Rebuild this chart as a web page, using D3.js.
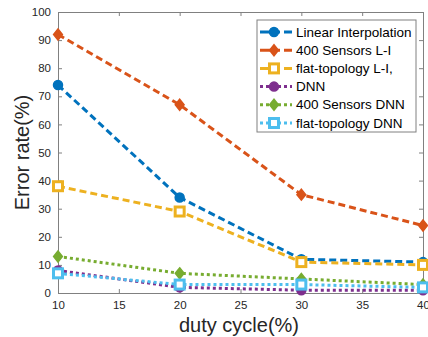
<!DOCTYPE html>
<html>
<head>
<meta charset="utf-8">
<script src="https://cdn.jsdelivr.net/npm/d3@7"></script>
<style>
  body { margin: 0; background: #fff; }
  svg { font-family: "Liberation Sans", Arial, sans-serif; }
</style>
</head>
<body>
<div id="chart"></div>
<script>
// Chart params
var svgWidth = 428;
var svgHeight = 337;

var margin = { top: 12, right: 5, bottom: 44, left: 58 };

var width = svgWidth - margin.left - margin.right;
var height = svgHeight - margin.top - margin.bottom;

// Data
var dutyCycle = [10, 20, 30, 40];
var linearInterp = [74, 34, 12, 11];
var sensors400LI = [92, 67, 35, 24];
var flatTopoLI = [38, 29, 11, 10];
var dnn = [8, 2, 1, 1];
var sensors400DNN = [13, 7, 5, 3];
var flatTopoDNN = [7, 3, 3, 2];

var xTicks = [10, 15, 20, 25, 30, 35, 40];
var yTicks = [0, 10, 20, 30, 40, 50, 60, 70, 80, 90, 100];

var series = [
  { name: "Linear Interpolation", values: linearInterp, color: "#0072BD", marker: "circle", dash: "7,4" },
  { name: "400 Sensors L-I", values: sensors400LI, color: "#D95319", marker: "diamond", dash: "7,4" },
  { name: "flat-topology L-I,", values: flatTopoLI, color: "#EDB120", marker: "square", dash: "7,4" },
  { name: "DNN", values: dnn, color: "#7E2F8E", marker: "circle", dash: "3,3" },
  { name: "400 Sensors DNN", values: sensors400DNN, color: "#77AC30", marker: "diamond", dash: "3,3" },
  { name: "flat-topology DNN", values: flatTopoDNN, color: "#4DBEEE", marker: "square", dash: "3,3" }
];

var svg = d3.select("#chart")
  .append("svg")
  .attr("width", svgWidth)
  .attr("height", svgHeight);

var chartGroup = svg.append("g")
  .attr("transform", `translate(${margin.left}, ${margin.top})`);

// Scales
var xScale = d3.scaleLinear().domain([10, 40]).range([0, width]);
var yScale = d3.scaleLinear().domain([0, 100]).range([height, 0]);

var axisColor = "#808080";
var textColor = "#262626";

// Axes (ticks inward, MATLAB style)
var bottomAxis = d3.axisBottom(xScale).tickValues(xTicks).tickSizeInner(-4).tickSizeOuter(0).tickPadding(8);
var leftAxis = d3.axisLeft(yScale).tickValues(yTicks).tickSizeInner(-4).tickSizeOuter(0).tickPadding(7);
var topAxis = d3.axisTop(xScale).tickValues(xTicks).tickSizeInner(-4).tickSizeOuter(0).tickFormat("");
var rightAxis = d3.axisRight(yScale).tickValues(yTicks).tickSizeInner(-4).tickSizeOuter(0).tickFormat("");

function styleAxis(g) {
  g.selectAll("path, line").attr("stroke", axisColor);
  g.selectAll("text").attr("fill", textColor).style("font-size", "11.5px");
}

chartGroup.append("g").attr("transform", `translate(0, ${height})`).call(bottomAxis).call(styleAxis);
chartGroup.append("g").call(leftAxis).call(styleAxis);
chartGroup.append("g").call(topAxis).call(styleAxis);
chartGroup.append("g").attr("transform", `translate(${width}, 0)`).call(rightAxis).call(styleAxis);

// Lines
var line = d3.line()
  .x((d, i) => xScale(dutyCycle[i]))
  .y(d => yScale(d));

function drawMarker(g, type, color, x, y) {
  if (type === "circle") {
    g.append("circle").attr("cx", x).attr("cy", y).attr("r", 4.5)
      .attr("fill", color).attr("stroke", color).attr("stroke-width", 1.5);
  } else if (type === "diamond") {
    var s = 5.5;
    g.append("path")
      .attr("d", `M${x},${y - s}L${x + s * 0.8},${y}L${x},${y + s}L${x - s * 0.8},${y}Z`)
      .attr("fill", color).attr("stroke", color).attr("stroke-width", 1.5);
  } else {
    g.append("rect").attr("x", x - 4.5).attr("y", y - 4.5).attr("width", 9).attr("height", 9)
      .attr("fill", "#fff").attr("stroke", color).attr("stroke-width", 3);
  }
}

series.forEach(function(s) {
  var g = chartGroup.append("g");
  g.append("path")
    .datum(s.values)
    .attr("d", line)
    .attr("fill", "none")
    .attr("stroke", s.color)
    .attr("stroke-width", 3)
    .attr("stroke-dasharray", s.dash);
  s.values.forEach(function(v, i) {
    drawMarker(g, s.marker, s.color, xScale(dutyCycle[i]), yScale(v));
  });
});

// Legend
var legend = svg.append("g").attr("transform", "translate(257, 20)");
legend.append("rect")
  .attr("width", 159).attr("height", 112)
  .attr("fill", "#fff").attr("stroke", axisColor).attr("stroke-width", 1);

series.forEach(function(s, i) {
  var y = 12 + i * 18.2;
  var g = legend.append("g");
  g.append("line")
    .attr("x1", 3).attr("x2", 35).attr("y1", y).attr("y2", y)
    .attr("stroke", s.color).attr("stroke-width", 3)
    .attr("stroke-dasharray", s.dash === "7,4" ? "20,4,8" : "3,3");
  drawMarker(g, s.marker, s.color, 17, y);
  g.append("text")
    .attr("x", 39).attr("y", y + 4.5)
    .attr("fill", "#000")
    .style("font-size", "13.5px")
    .text(s.name);
});

// Axis labels
svg.append("text")
  .attr("transform", "rotate(-90)")
  .attr("x", -(margin.top + height / 2))
  .attr("y", 29)
  .attr("text-anchor", "middle")
  .attr("fill", textColor)
  .style("font-size", "20px")
  .text("Error rate(%)");

svg.append("text")
  .attr("x", 239)
  .attr("y", 332)
  .attr("text-anchor", "middle")
  .attr("fill", textColor)
  .style("font-size", "20px")
  .text("duty cycle(%)");
</script>
</body>
</html>
